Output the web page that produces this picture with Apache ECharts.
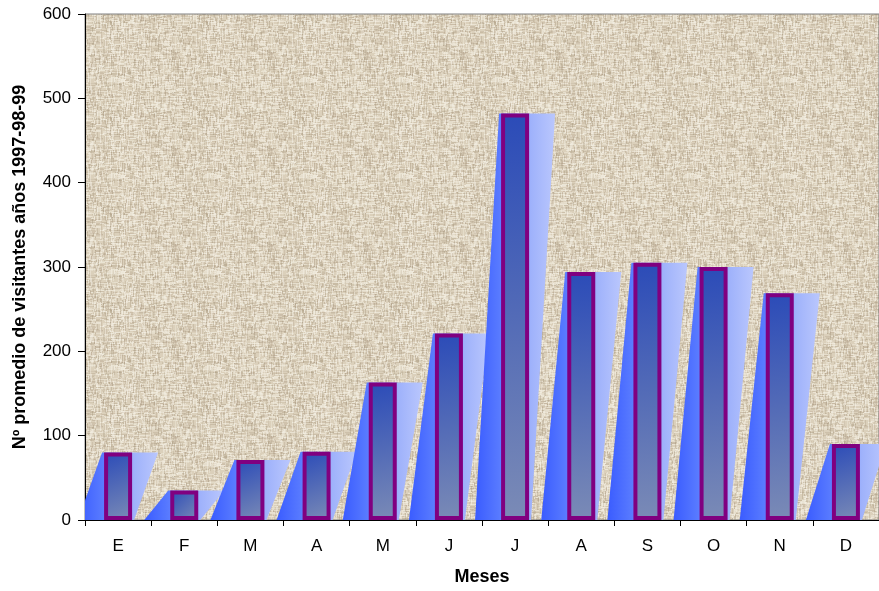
<!DOCTYPE html>
<html>
<head>
<meta charset="utf-8">
<script src="https://cdn.jsdelivr.net/npm/echarts@6/dist/echarts.min.js"></script>
<style>
html,body{margin:0;padding:0;background:#ffffff;}
#chart{width:879px;height:591px;}
</style>
</head>
<body>
<div id="chart"></div>
<script>
// ---- data ----
const months = ['E', 'F', 'M', 'A', 'M', 'J', 'J', 'A', 'S', 'O', 'N', 'D'];
const visitors = [80, 35, 71, 81, 163, 221, 482, 294, 305, 300, 269, 90];
const yTicks = [0, 100, 200, 300, 400, 500, 600];
const xTitle = 'Meses';
const yTitle = 'Nº promedio de visitantes años 1997-98-99';

// ---- decorative woven texture for the plot background ----
function makeTexture() {
  const S = 96;
  const c = document.createElement('canvas');
  c.width = S; c.height = S;
  const g = c.getContext('2d');
  g.fillStyle = '#dbd0bb';
  g.fillRect(0, 0, S, S);
  function h(n) { const s = Math.sin(n * 127.1 + 311.7) * 43758.5453; return s - Math.floor(s); }
  // horizontal threads
  for (let y = 0; y < S; y++) {
    let x = 0, k = 0;
    while (x < S) {
      const len = 2 + Math.floor(h(y * 97 + k * 13) * 6);
      const r = h(y * 31 + k * 7 + 3);
      if (r > 0.65) g.fillStyle = 'rgba(246,242,230,' + (0.3 + 0.35 * h(y + k * 5 + 11)) + ')';
      else if (r < 0.25) g.fillStyle = 'rgba(150,130,104,' + (0.1 + 0.2 * h(y * 3 + k + 17)) + ')';
      else g.fillStyle = 'rgba(0,0,0,0)';
      g.fillRect(x, y, Math.min(len, S - x), 1);
      x += len; k++;
    }
  }
  // vertical threads
  for (let x = 0; x < S; x++) {
    let y = 0, k = 0;
    while (y < S) {
      const len = 2 + Math.floor(h(x * 53 + k * 19 + 1000) * 6);
      const r = h(x * 17 + k * 11 + 2000);
      if (r > 0.7) g.fillStyle = 'rgba(248,244,234,' + (0.25 + 0.3 * h(x + k * 3 + 3000)) + ')';
      else if (r < 0.22) g.fillStyle = 'rgba(145,126,100,' + (0.1 + 0.2 * h(x * 5 + k + 4000)) + ')';
      else g.fillStyle = 'rgba(0,0,0,0)';
      g.fillRect(x, y, 1, Math.min(len, S - y));
      y += len; k++;
    }
  }
  return c;
}

const chart = echarts.init(document.getElementById('chart'), null, { renderer: 'canvas' });
const FONT = '"Liberation Sans", Arial, Helvetica, sans-serif';
const BAR_W = 28;
const SHIFT = 24;

const option = {
  animation: false,
  backgroundColor: '#ffffff',
  grid: {
    left: 85, top: 14, right: -6, bottom: 71,
    show: true,
    borderColor: '#808080',
    borderWidth: 1,
    backgroundColor: { image: makeTexture(), repeat: 'repeat' }
  },
  xAxis: {
    type: 'category',
    data: months,
    boundaryGap: true,
    name: xTitle,
    nameLocation: 'middle',
    nameGap: 48,
    nameTextStyle: { fontFamily: FONT, fontSize: 18, fontWeight: 'bold', color: '#000' },
    axisLine: { show: true, onZero: false, lineStyle: { color: '#000', width: 1 } },
    axisTick: { show: true, length: 6, lineStyle: { color: '#000' } },
    axisLabel: { fontFamily: FONT, fontSize: 17, color: '#000', margin: 18 },
    splitLine: { show: false }
  },
  yAxis: {
    type: 'value',
    min: yTicks[0],
    max: yTicks[yTicks.length - 1],
    interval: 100,
    name: yTitle,
    nameLocation: 'middle',
    nameGap: 56,
    nameTextStyle: { fontFamily: FONT, fontSize: 18, fontWeight: 'bold', color: '#000' },
    axisLine: { show: true, lineStyle: { color: '#000', width: 1 } },
    axisTick: { show: true, length: 7, lineStyle: { color: '#000' } },
    axisLabel: { fontFamily: FONT, fontSize: 17, color: '#000', margin: 14 },
    splitLine: { show: false }
  },
  series: [
    {
      type: 'custom',
      z: 1,
      clip: true,
      data: visitors.map((v, i) => [i, v]),
      renderItem: function (params, api) {
        const i = api.value(0);
        const v = api.value(1);
        const top = api.coord([i, v]);
        const bot = api.coord([i, 0]);
        const half = BAR_W / 2 + 2;
        const pts = [
          [top[0] - half - SHIFT, bot[1]],
          [top[0] + half, bot[1]],
          [top[0] + half + SHIFT, top[1]],
          [top[0] - half, top[1]]
        ];
        return {
          type: 'polygon',
          shape: { points: pts },
          style: {
            fill: new echarts.graphic.LinearGradient(0, 0, 1, 0, [
              { offset: 0, color: '#3a5cff' },
              { offset: 0.3, color: '#587aff' },
              { offset: 0.7, color: '#9fb2fb' },
              { offset: 1, color: '#bac7fd' }
            ]),
            stroke: null
          }
        };
      }
    },
    {
      type: 'bar',
      z: 2,
      data: visitors,
      barWidth: BAR_W,
      itemStyle: {
        color: new echarts.graphic.LinearGradient(0, 0, 1, 1, [
          { offset: 0, color: '#2b4bb8' },
          { offset: 1, color: '#7b8bb6' }
        ]),
        borderColor: '#800080',
        borderWidth: 4
      }
    }
  ]
};
chart.setOption(option);
</script>
</body>
</html>
